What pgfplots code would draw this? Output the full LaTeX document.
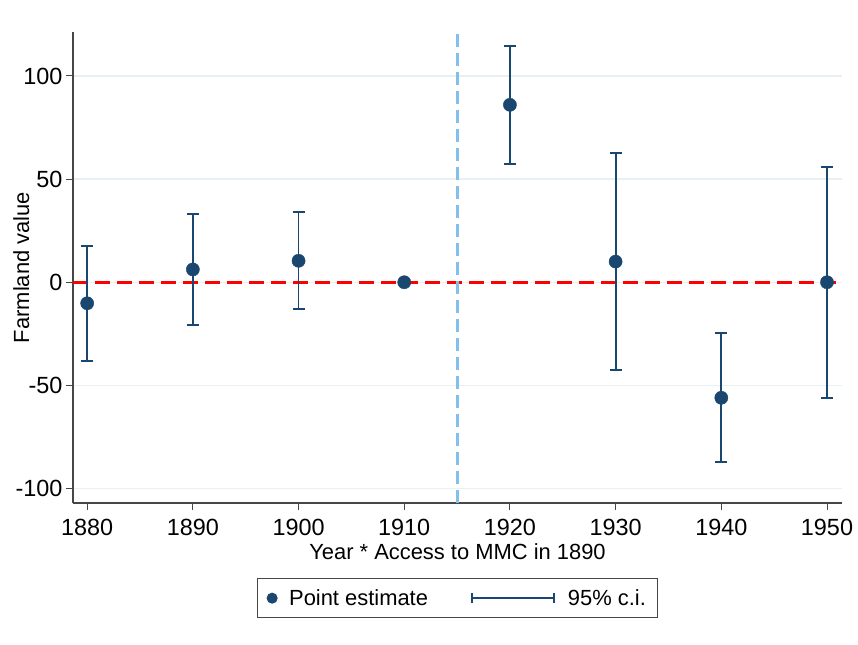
\documentclass[border=0pt]{standalone}
\usepackage{fontspec}
\setmainfont{Liberation Sans}
\usepackage{pgfplots}
\pgfplotsset{compat=1.18}
\definecolor{stnavy}{RGB}{26,71,111}
\definecolor{stred}{RGB}{255,0,0}
\definecolor{stblue}{RGB}{128,192,234}
\definecolor{stgrid}{RGB}{232,240,243}
\definecolor{staxis}{RGB}{70,70,70}

\pgfplotstableread{
year  est   ci
1880 -10.2  27.8
1890  6.2   26.9
1900  10.4  23.5
1920  86.0  28.7
1930  10.0  52.5
1940 -56.0  31.3
1950  0.0   56.0
}\citable

\pgfplotstableread{
year  est
1880 -10.2
1890  6.2
1900  10.4
1910  0.0
1920  86.0
1930  10.0
1940 -56.0
1950  0.0
}\pointtable

\begin{document}
\begin{tikzpicture}
\useasboundingbox (-73bp,-142bp) rectangle (785bp,503bp);
\begin{axis}[
  at={(0,0)}, anchor=south west,
  scale only axis, width=769bp, height=471bp,
  xmin=1878.66, xmax=1951.42, ymin=-107, ymax=121.3,
  axis lines=left,
  axis line style={-, draw=staxis, line width=1.1bp},
  xtick={1880,1890,...,1950},
  ytick={-100,-50,0,50,100},
  tick align=outside,
  major tick length=7bp,
  tick style={draw=staxis, line width=1bp},
  ymajorgrids,
  grid style={draw=stgrid, line width=1.5bp},
  /pgf/number format/assume math mode=true,
  /pgf/number format/1000 sep={},
  xticklabel style={font=\fontsize{23.5}{26}\selectfont, yshift=-6bp},
  yticklabel style={font=\fontsize{23.5}{26}\selectfont},
  xlabel={Year * Access to MMC in 1890},
  ylabel={Farmland value},
  xlabel style={font=\fontsize{22}{26}\selectfont, at={(axis description cs:0.5,-0.121)}, anchor=base},
  ylabel style={font=\fontsize{22}{26}\selectfont, at={(axis description cs:-0.0572,0.5)}, anchor=base},
  clip=false,
  legend columns=2,
  legend style={
    at={(0.5,-0.1592)}, anchor=north,
    draw=staxis, line width=1bp,
    font=\fontsize{22}{26}\selectfont,
    inner xsep=0bp, inner ysep=11bp,
    nodes={inner sep=0pt},
    /tikz/every even column/.append style={column sep=0bp},
  },
]
\addplot[stred, line width=3bp, dash pattern=on 15bp off 7bp, forget plot] coordinates {(1878.66,0) (1951.42,0)};
\addplot[stblue, line width=3bp, dash pattern=on 13bp off 6bp, forget plot] coordinates {(1915,-107) (1915,121.3)};
\addplot[draw=none, mark=none, forget plot,
  error bars/.cd, y dir=both, y explicit,
  error bar style={stnavy, line width=1.8bp},
  error mark options={stnavy, rotate=90, mark size=6bp, line width=1.8bp}]
  table[x=year, y=est, y error=ci] {\citable};
\addplot[only marks, mark=*, mark size=6.6bp, stnavy, mark options={fill=stnavy, draw=stnavy},
  legend image code/.code={\path[draw=none,fill=none] (0bp,-1bp) rectangle (32bp,1bp); \fill[stnavy] (15bp,0bp) circle (5bp);}]
  table[x=year, y=est] {\pointtable};
\addlegendentry{Point estimate\hspace*{43bp}}
\addlegendimage{legend image code/.code={\path[draw=none,fill=none] (0bp,-1bp) rectangle (96bp,1bp);
  \draw[stnavy, line width=1.8bp] (0bp,0bp) -- (82bp,0bp);
  \draw[stnavy, line width=1.8bp] (0bp,-5bp) -- (0bp,5bp);
  \draw[stnavy, line width=1.8bp] (82bp,-5bp) -- (82bp,5bp);}}
\addlegendentry{95\% c.i.\hspace*{12bp}}
\end{axis}
\end{tikzpicture}
\end{document}
